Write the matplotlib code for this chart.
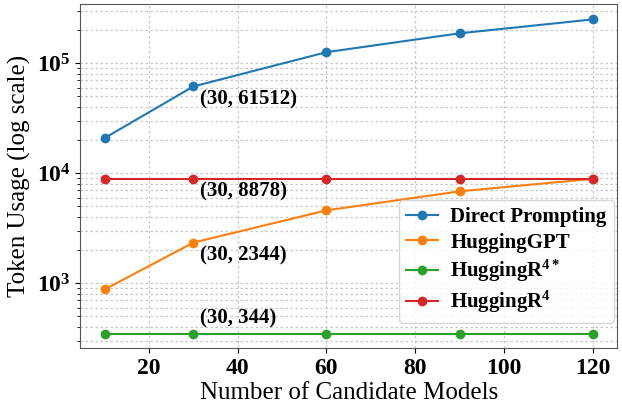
import matplotlib
matplotlib.use('Agg')
import matplotlib.pyplot as plt
from matplotlib.ticker import LogLocator, FuncFormatter
import numpy as np

plt.rcParams['font.family'] = 'Liberation Serif'
plt.rcParams['mathtext.fontset'] = 'custom'
plt.rcParams['mathtext.rm'] = 'Liberation Serif'
plt.rcParams['mathtext.bf'] = 'Liberation Serif:bold'
plt.rcParams['mathtext.it'] = 'Liberation Serif:italic'

models = [10, 30, 60, 90, 120]
direct = [20900, 61512, 126000, 187000, 250000]
hugginggpt = [880, 2344, 4600, 6850, 8900]
r4_star = [344, 344, 344, 344, 344]
r4 = [8878, 8878, 8878, 8878, 8878]

labels = ['Direct Prompting', 'HuggingGPT', r'HuggingR$^{\mathbf{4*}}$', r'HuggingR$^{\mathbf{4}}$']
colors = ['#1f77b4', '#ff7f0e', '#2ca02c', '#d62728']

fig, ax = plt.subplots(figsize=(6.22, 4.04), dpi=100)
fig.subplots_adjust(left=0.129, right=0.992, top=0.99, bottom=0.138)

for ys, lab, c in zip([direct, hugginggpt, r4_star, r4], labels, colors):
    ax.plot(models, ys, '-o', color=c, label=lab, markersize=6, linewidth=1.5)

ax.set_yscale('log')
ax.set_ylim(257, 3.45e5)
ax.yaxis.set_major_locator(LogLocator(base=10))
ax.yaxis.set_minor_locator(LogLocator(base=10, subs=np.arange(2, 10)))
ax.yaxis.set_major_formatter(FuncFormatter(lambda v, p: r'$\mathbf{10^{%d}}$' % round(np.log10(v))))
ax.yaxis.set_minor_formatter(FuncFormatter(lambda v, p: ''))
ax.set_xticks([20, 40, 60, 80, 100, 120])

ax.grid(True, which='major', linestyle=(0, (2, 2)), color='#c8c8c8', linewidth=0.9)
ax.grid(True, which='minor', linestyle=(0, (2, 2)), color='#c8c8c8', linewidth=0.9)
ax.set_axisbelow(True)

for lab in ax.get_xticklabels() + ax.get_yticklabels():
    lab.set_fontweight('bold')
    lab.set_fontsize(17)

for s in ax.spines.values():
    s.set_color('#555555')

ax.set_xlabel('Number of Candidate Models', fontsize=18, labelpad=2)
ax.set_ylabel('Token Usage (log scale)', fontsize=18)

# annotate the 30-model point of each series
for ys in [direct, r4, hugginggpt]:
    ax.annotate('(%d, %d)' % (models[1], ys[1]), (models[1], ys[1]),
                xytext=(5, -2), textcoords='offset points', va='top', ha='left',
                fontsize=15, fontweight='bold')
ax.annotate('(%d, %d)' % (models[1], r4_star[1]), (models[1], r4_star[1]),
            xytext=(5, 4), textcoords='offset points', va='bottom', ha='left',
            fontsize=15, fontweight='bold')

ax.legend(loc='lower right', prop={'weight': 'bold', 'size': 15},
          bbox_to_anchor=(1.0, 0.065), borderaxespad=0.15, handlelength=1.5,
          borderpad=0.35, labelspacing=0.25, handletextpad=0.6)

fig.savefig('out.png', dpi=100)
